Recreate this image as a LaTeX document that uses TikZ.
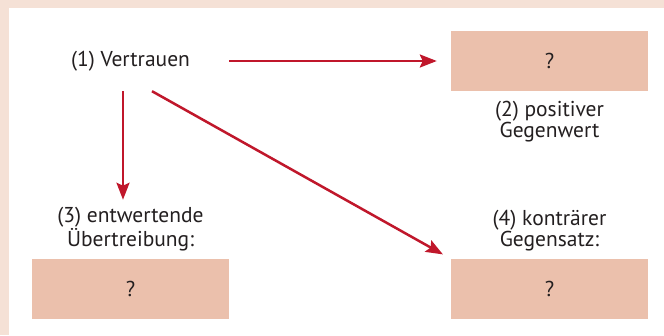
\documentclass[tikz,border=0pt]{standalone}
\usepackage{fontspec}
\setmainfont{PT Sans}
\usetikzlibrary{positioning,arrows.meta}

\definecolor{boxfill}{HTML}{EBC0AC}
\definecolor{framepink}{HTML}{F5E1D6}
\definecolor{arrowred}{HTML}{C0172B}
\definecolor{textgrey}{HTML}{231F20}

\tikzset{
  qbox/.style={fill=boxfill, minimum width=197pt, minimum height=60pt,
    inner sep=0pt, text=textgrey, font=\fontsize{21.5}{24}\selectfont},
  lbl/.style={align=center, inner sep=0pt, text=textgrey,
    font=\fontsize{21.5}{19.5}\selectfont},
  redarrow/.style={draw=arrowred, line width=2.5pt,
    -{Stealth[length=17pt,width=13pt,inset=3pt]}}
}

\begin{document}
\begin{tikzpicture}[x=1pt,y=-1pt]
	%%%%% FRAME %%%%%
	\useasboundingbox (0,0) rectangle (664,335);
	\fill[white] (0,0) rectangle (664,335);
	\fill[framepink] (0,0) rectangle (664,7.5);
	\fill[framepink] (0,0) rectangle (8.5,335);
	
	%%%%% BOXES %%%%%
	\node[qbox, fill=none] (vertrauen) at (130.5,61) {(1) Vertrauen};
	\node[qbox] (wert) at (549.5,61) {?};
	\node[qbox] (uebertr) at (130.5,289) {?};
	\node[qbox] (gegensatz) at (549.5,289) {?};
	
	%%%%% LABELS %%%%%
	\node[lbl, below=10pt of wert] (wertlbl) {(2) positiver\\Gegenwert};
	\node[lbl, above=8pt of uebertr] (uebertrlbl) {(3) entwertende\\Übertreibung:};
	\node[lbl, above=8pt of gegensatz] (gegensatzlbl) {(4) konträrer\\Gegensatz:};
	
	%%%%% ARROWS %%%%%
	\draw[redarrow, shorten >=14pt] (vertrauen.east) -- (wert.west);
	\draw[redarrow, shorten >=7pt] ([xshift=-7.5pt]vertrauen.south) -- ([xshift=-7.5pt]uebertrlbl.north);
	\draw[redarrow, shorten >=9pt] ([xshift=21.5pt]vertrauen.south) -- (gegensatz.north west);
\end{tikzpicture}
\end{document}
